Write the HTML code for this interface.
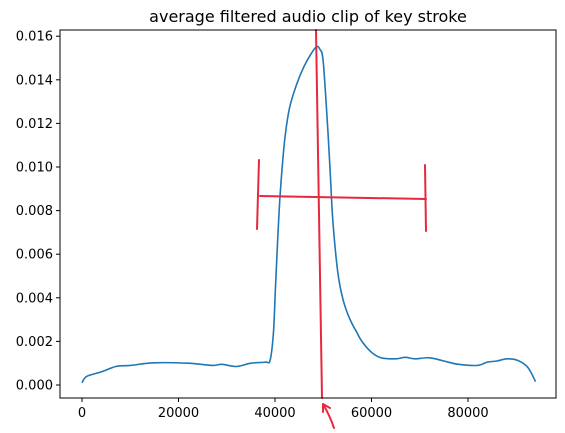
<!DOCTYPE html>
<html><head><meta charset="utf-8"><style>
body{margin:0;background:#fff;}
svg{display:block;font-family:"DejaVu Sans","Liberation Sans",sans-serif;}
</style></head><body>
<svg id="chart" width="565" height="433">
<text x="308" y="22" font-size="16" text-anchor="middle">average filtered audio clip of key stroke</text>
<g id="axes"></g>
<path id="line" fill="none" stroke="#1f77b4" stroke-width="1.6"/>
<g stroke="#e8283f" stroke-width="2" fill="none" stroke-linecap="round">
<line x1="316" y1="30" x2="322" y2="398"/>
<line x1="260" y1="196" x2="426" y2="199"/>
<line x1="259" y1="160" x2="257" y2="229"/>
<line x1="425" y1="165" x2="426" y2="231"/>
<path d="M334 428 Q330 416 323 404 M323 404 L323 412 M323 404 L330 408"/>
</g>
<rect x="60" y="30" width="496" height="368" fill="none" stroke="#000" stroke-width="1"/>
</svg>
<script>
const xTicks=[0,20000,40000,60000,80000];
const yTicks=[0,0.002,0.004,0.006,0.008,0.010,0.012,0.014,0.016];
const xs=[0,1,4,7,10,15,22,27,29,32,35,38,39,39.7,40.2,41,42,43,44.5,46,47.5,48.6,49.3,50,51,51.5,52,53,54,55,56,57,58,60,62,65,67,69,72,75,78,82,84,86,88,90,92,93,94];
const ys=[0.0001,0.0004,0.0006,0.00085,0.0009,0.00102,0.001,0.0009,0.00095,0.00085,0.001,0.00105,0.00115,0.0025,0.005,0.0085,0.0112,0.0127,0.0138,0.0146,0.0152,0.01552,0.0154,0.0148,0.0115,0.0095,0.0075,0.0052,0.004,0.0033,0.0028,0.0024,0.002,0.0015,0.00125,0.0012,0.00127,0.0012,0.00125,0.0011,0.00095,0.0009,0.00105,0.0011,0.0012,0.00115,0.0009,0.0006,0.00015];
const X=v=>82+v*96.5/20000;
const Y=v=>385-v*21800;
const ns="http://www.w3.org/2000/svg";
const ax=document.getElementById('axes');
xTicks.forEach(t=>{
 const l=document.createElementNS(ns,'line');
 l.setAttribute('x1',X(t));l.setAttribute('x2',X(t));l.setAttribute('y1',398);l.setAttribute('y2',402);l.setAttribute('stroke','#000');
 
 
 ax.appendChild(l);
 const tx=document.createElementNS(ns,'text');
 tx.setAttribute('x',X(t));tx.setAttribute('y',417);tx.setAttribute('font-size','13');tx.setAttribute('text-anchor','middle');tx.textContent=t;
 
 
 ax.appendChild(tx);
});
yTicks.forEach(t=>{
 const l=document.createElementNS(ns,'line');
 l.setAttribute('x1',56);l.setAttribute('x2',60);l.setAttribute('y1',Y(t));l.setAttribute('y2',Y(t));l.setAttribute('stroke','#000');
 
 
 ax.appendChild(l);
 const tx=document.createElementNS(ns,'text');
 tx.setAttribute('x',53);tx.setAttribute('y',Y(t)+4.5);tx.setAttribute('font-size','13');tx.setAttribute('text-anchor','end');tx.textContent=t.toFixed(3);
 
 
 ax.appendChild(tx);
});
const P=xs.map((x,i)=>[X(x*1000),Y(ys[i])]);
let d='M'+P[0][0].toFixed(1)+' '+P[0][1].toFixed(1);
for(let i=0;i<P.length-1;i++){
 const p0=P[Math.max(0,i-1)],p1=P[i],p2=P[i+1],p3=P[Math.min(P.length-1,i+2)];
 const k=1/6;
 const c1=[p1[0]+(p2[0]-p0[0])*k,p1[1]+(p2[1]-p0[1])*k];
 const c2=[p2[0]-(p3[0]-p1[0])*k,p2[1]-(p3[1]-p1[1])*k];
 d+=' C'+c1.map(v=>v.toFixed(1)).join(' ')+' '+c2.map(v=>v.toFixed(1)).join(' ')+' '+p2[0].toFixed(1)+' '+p2[1].toFixed(1);
}
document.getElementById('line').setAttribute('d',d);
</script>
</body></html>
